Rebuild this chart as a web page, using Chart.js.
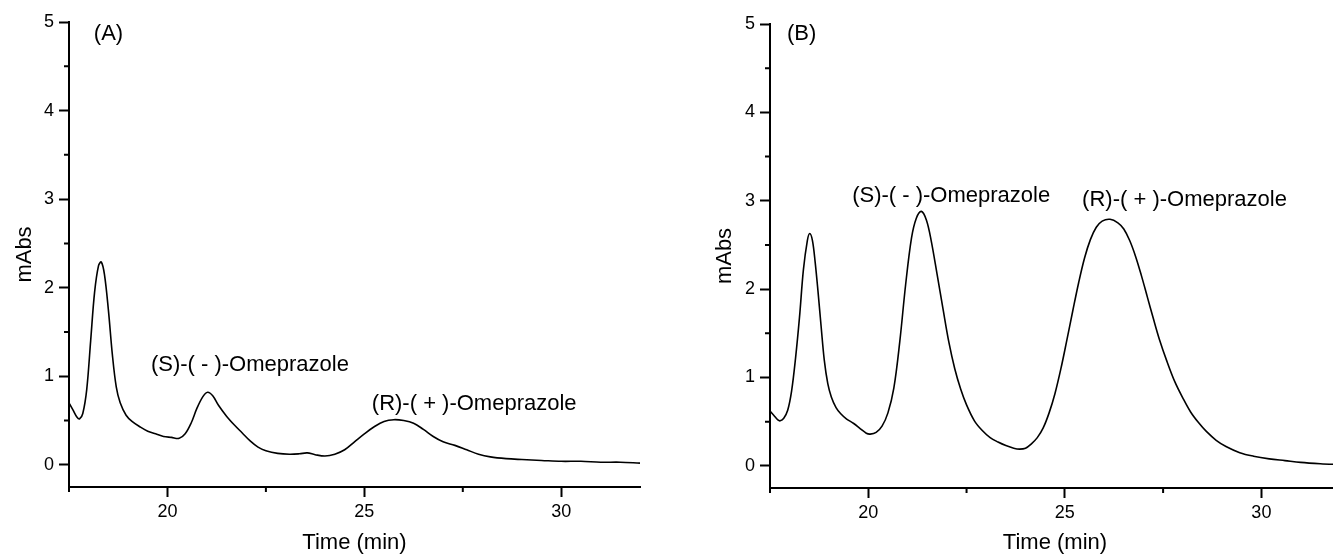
<!DOCTYPE html>
<html>
<head>
<meta charset="utf-8">
<script src="https://cdn.jsdelivr.net/npm/chart.js@4.4.1/dist/chart.umd.min.js"></script>
<style>
  html, body { margin: 0; padding: 0; background: #fff; overflow: hidden; }
  body { width: 1333px; height: 556px; position: relative; }
  canvas { position: absolute; top: 0; }
  #chartA { left: 0; }
  #chartB { left: 700px; }
</style>
</head>
<body>
<canvas id="chartA" width="660" height="556"></canvas>
<canvas id="chartB" width="660" height="556"></canvas>
<script>
// chromatogram (A)
const timeA = [17.50, 17.60, 17.70, 17.77, 17.85, 17.95, 18.05, 18.15, 18.25, 18.32,
               18.40, 18.50, 18.60, 18.70, 18.80, 18.95, 19.10, 19.30, 19.50, 19.70,
               19.90, 20.10, 20.30, 20.45, 20.60, 20.75, 20.90, 21.02, 21.15, 21.30,
               21.50, 21.70, 21.90, 22.10, 22.30, 22.50, 22.80, 23.10, 23.35, 23.55,
               23.75, 24.00, 24.25, 24.50, 24.75, 25.00, 25.25, 25.50, 25.75, 26.00,
               26.25, 26.50, 26.75, 27.00, 27.30, 27.60, 27.90, 28.20, 28.60, 29.00,
               29.50, 30.00, 30.50, 31.00, 31.50, 32.00];
const absA  = [0.70, 0.62, 0.54, 0.52, 0.58, 0.85, 1.40, 1.95, 2.25, 2.29,
               2.15, 1.75, 1.25, 0.88, 0.70, 0.56, 0.49, 0.43, 0.38, 0.35,
               0.32, 0.31, 0.30, 0.35, 0.47, 0.64, 0.77, 0.82, 0.78, 0.67,
               0.55, 0.45, 0.36, 0.27, 0.20, 0.16, 0.13, 0.12, 0.125, 0.135,
               0.115, 0.10, 0.12, 0.17, 0.26, 0.35, 0.43, 0.49, 0.51, 0.50,
               0.47, 0.40, 0.32, 0.26, 0.22, 0.17, 0.12, 0.09, 0.07, 0.06,
               0.05, 0.04, 0.04, 0.03, 0.03, 0.02];

// chromatogram (B)
const timeB = [17.50, 17.60, 17.70, 17.76, 17.85, 17.95, 18.05, 18.15, 18.25, 18.35,
               18.45, 18.51, 18.58, 18.65, 18.72, 18.80, 18.88, 18.97, 19.06, 19.18,
               19.30, 19.45, 19.63, 19.80, 19.95, 20.05, 20.20, 20.35, 20.50, 20.65,
               20.80, 20.95, 21.10, 21.22, 21.35, 21.48, 21.60, 21.75, 21.90, 22.05,
               22.20, 22.35, 22.50, 22.70, 22.90, 23.10, 23.30, 23.50, 23.70, 23.85,
               24.00, 24.15, 24.30, 24.45, 24.60, 24.75, 24.90, 25.05, 25.20, 25.35,
               25.50, 25.65, 25.80, 25.95, 26.15, 26.35, 26.50, 26.65, 26.80, 26.95,
               27.10, 27.25, 27.40, 27.60, 27.80, 28.00, 28.20, 28.40, 28.60, 28.85,
               29.10, 29.45, 29.80, 30.20, 30.60, 31.00, 31.50, 32.00];
const absB  = [0.62, 0.57, 0.52, 0.51, 0.54, 0.63, 0.85, 1.22, 1.68, 2.22,
               2.55, 2.63, 2.55, 2.30, 1.98, 1.58, 1.20, 0.93, 0.78, 0.66,
               0.59, 0.53, 0.48, 0.42, 0.37, 0.36, 0.38, 0.45, 0.60, 0.88,
               1.40, 2.05, 2.58, 2.80, 2.88, 2.78, 2.55, 2.17, 1.78, 1.40,
               1.10, 0.87, 0.69, 0.51, 0.40, 0.32, 0.27, 0.23, 0.20, 0.19,
               0.20, 0.25, 0.32, 0.43, 0.60, 0.82, 1.10, 1.42, 1.75, 2.07,
               2.35, 2.56, 2.70, 2.77, 2.79, 2.75, 2.68, 2.55, 2.37, 2.15,
               1.91, 1.67, 1.44, 1.18, 0.95, 0.77, 0.61, 0.49, 0.39, 0.29,
               0.22, 0.15, 0.11, 0.08, 0.06, 0.04, 0.025, 0.015];

const xTicks = [20, 25, 30];
const yTicks = [0, 1, 2, 3, 4, 5];
const xMinor = [17.5, 22.5, 27.5];
const yMinor = [0.5, 1.5, 2.5, 3.5, 4.5];

// peak labels, anchored at (time, mAbs) of their left edge
const notesA = [
    { text: '(A)', x: 18.13, y: 4.87 },
    { text: '(S)-( - )-Omeprazole', x: 19.58, y: 1.13 },
    { text: '(R)-( + )-Omeprazole', x: 25.19, y: 0.69 }
];
const notesB = [
    { text: '(B)', x: 17.93, y: 4.89 },
    { text: '(S)-( - )-Omeprazole', x: 19.59, y: 3.06 },
    { text: '(R)-( + )-Omeprazole', x: 25.44, y: 3.01 }
];

const FONT = "'Liberation Sans', Arial, sans-serif";
Chart.defaults.font.family = FONT;
Chart.defaults.color = '#000';

// small outward ticks between the labelled ones, plus the peak names
const extras = {
    id: 'extras',
    afterDraw(chart, args, opts) {
        let ctx = chart.ctx;
        let xs = chart.scales.x;
        let ys = chart.scales.y;
        let area = chart.chartArea;
        ctx.save();
        ctx.strokeStyle = '#000';
        ctx.lineWidth = 2;
        ctx.beginPath();
        xMinor.forEach(v => {
            let px = xs.getPixelForValue(v);
            ctx.moveTo(px, area.bottom);
            ctx.lineTo(px, area.bottom + 5);
        });
        yMinor.forEach(v => {
            let py = ys.getPixelForValue(v);
            ctx.moveTo(area.left, py);
            ctx.lineTo(area.left - 5, py);
        });
        ctx.stroke();

        ctx.fillStyle = '#000';
        ctx.font = '22px ' + FONT;
        ctx.textAlign = 'left';
        ctx.textBaseline = 'middle';
        opts.notes.forEach(n => {
            ctx.fillText(n.text, xs.getPixelForValue(n.x), ys.getPixelForValue(n.y));
        });
        ctx.restore();
    }
};

function creaCromatogramma(id, tempi, valori, notes, yWidth, padTop, xHeight) {
    let ctx = document.getElementById(id).getContext('2d');
    new Chart(ctx, {
        type: 'line',
        data: {
            datasets: [{
                data: tempi.map((t, i) => ({ x: t, y: valori[i] })),
                borderColor: '#000',
                borderWidth: 1.6,
                pointRadius: 0,
                tension: 0.35,
                fill: false
            }]
        },
        options: {
            responsive: false,
            animation: false,
            layout: { padding: { top: padTop, right: 20, left: 0, bottom: 0 } },
            plugins: {
                legend: { display: false },
                tooltip: { enabled: false },
                extras: { notes: notes }
            },
            scales: {
                x: {
                    type: 'linear',
                    min: 17.5,
                    max: 32,
                    border: { display: true, color: '#000', width: 2 },
                    grid: { drawOnChartArea: false, drawTicks: true, tickLength: 10, color: '#000', tickWidth: 2 },
                    ticks: { color: '#000', font: { size: 18 }, padding: 4, maxRotation: 0 },
                    title: { display: true, text: 'Time (min)', color: '#000', font: { size: 22 }, padding: { top: 0, bottom: 0 } },
                    afterBuildTicks: s => { s.ticks = xTicks.map(v => ({ value: v })); },
                    afterFit: s => { s.height = xHeight; }
                },
                y: {
                    type: 'linear',
                    min: -0.25,
                    max: 5,
                    border: { display: true, color: '#000', width: 2 },
                    grid: { drawOnChartArea: false, drawTicks: true, tickLength: 10, color: '#000', tickWidth: 2 },
                    ticks: { color: '#000', font: { size: 18 }, padding: 5 },
                    title: { display: true, text: 'mAbs', color: '#000', font: { size: 22 }, padding: { top: 12, bottom: 0 } },
                    afterBuildTicks: s => { s.ticks = yTicks.map(v => ({ value: v })); },
                    afterFit: s => { s.width = yWidth; }
                }
            }
        },
        plugins: [extras]
    });
}

creaCromatogramma('chartA', timeA, absA, notesA, 69, 22, 69);
creaCromatogramma('chartB', timeB, absB, notesB, 70, 24, 68);
</script>
</body>
</html>
